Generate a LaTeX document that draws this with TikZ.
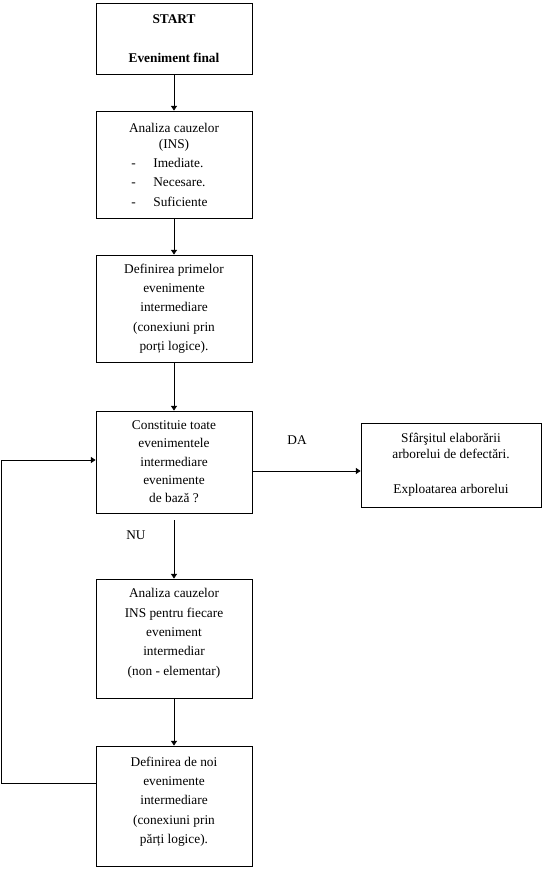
\documentclass[tikz,border=0pt]{standalone}
\usepackage{fontspec}
\setmainfont{Liberation Serif}
\usepackage{tikz}
\usetikzlibrary{arrows.meta,positioning,calc}

\newcommand{\liniuta}[1]{\makebox[64pt][l]{-\hspace{13.2pt}#1}}

\begin{document}
\begin{tikzpicture}[x=0.75pt, y=-0.75pt, font=\fontsize{10}{14.5}\selectfont,
  box/.style={rectangle, draw=black, line width=0.6pt, minimum width=117pt,
    align=center, inner sep=2pt},
  arr/.style={-{Triangle[length=3.6pt,width=4.6pt]}, line width=0.6pt}]
  \useasboundingbox (0,0) rectangle (544,870);

  \node[box, minimum height=53.25pt, font=\fontsize{10}{12}\selectfont] (start) at (174,38.5) {
    \textbf{START}\\[17pt]
    \textbf{Eveniment final}
  };
  \node[box, minimum height=80.25pt] (analiza) at (174,164.5) {
    Analiza cauzelor\\[-2.5pt]
    (INS)\\
    \liniuta{Imediate.}\\
    \liniuta{Necesare.}\\
    \liniuta{Suficiente}
  };
  \node[box, minimum height=80.25pt] (primele) at (174,308.5) {
    Definirea primelor\\
    evenimente\\
    intermediare\\
    (conexiuni prin\\
    porți logice).
  };
  \node[box, minimum height=76.5pt, font=\fontsize{10}{13.75}\selectfont] (intrebare) at (174,462) {
    Constituie toate\\
    evenimentele\\
    intermediare\\
    evenimente\\
    de bază ?
  };
  \node[box, minimum width=135pt, minimum height=63pt, font=\fontsize{10}{12}\selectfont] (sfarsit) at (451,465) {
    Sfârşitul elaborării\\
    arborelui de defectări.\\[14pt]
    Exploatarea arborelui
  };
  \node[box, minimum height=89.25pt] (analiza2) at (174,638.5) {
    Analiza cauzelor\\
    INS pentru fiecare\\
    eveniment\\
    intermediar\\
    (non - elementar)\\[-4.75pt]
  };
  \node[box, minimum height=90pt] (noi) at (174,806) {
    Definirea de noi\\
    evenimente\\
    intermediare\\
    (conexiuni prin\\
    părți logice).\\[-5.5pt]
  };

  \node (da) at (297,440) {DA};
  \node (nu) at (136,535) {NU};

  \draw[arr] (start) -- (analiza);
  \draw[arr] (analiza) -- (primele);
  \draw[arr] (primele) -- (intrebare);
  \draw[arr] ([yshift=-6.75pt]intrebare.east) -- ([yshift=-6.75pt]intrebare.east -| sfarsit.west);
  \draw[arr] ([yshift=-5.25pt]intrebare.south) -- (analiza2.north);
  \draw[arr] (analiza2) -- (noi);
  % bucla inapoi spre intrebare
  \draw[arr] ([yshift=17.25pt]noi.west) -- ++(-94,0) |- ([yshift=1.5pt]intrebare.west);
\end{tikzpicture}
\end{document}
